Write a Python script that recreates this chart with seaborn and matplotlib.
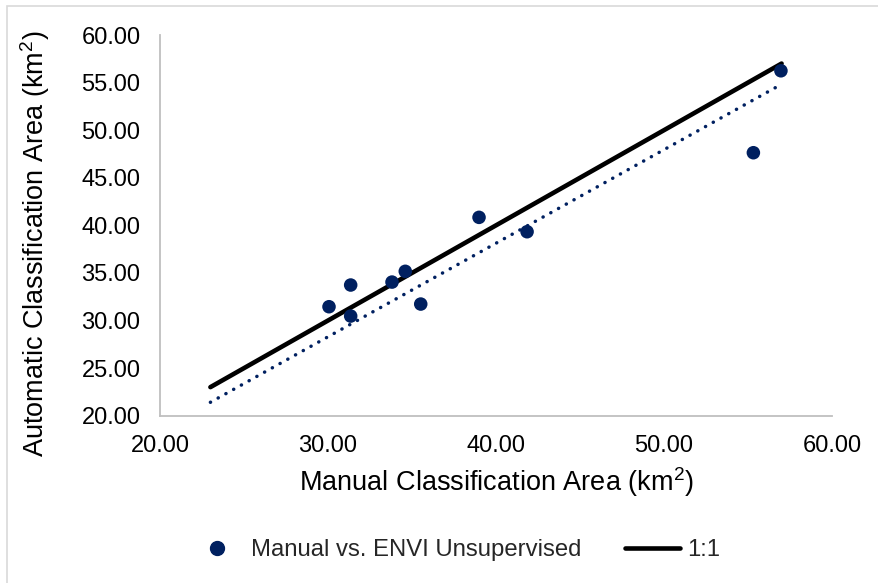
import matplotlib
matplotlib.use("Agg")
import matplotlib.pyplot as plt
from matplotlib.patches import Rectangle
from matplotlib.lines import Line2D
import numpy as np
import pandas as pd
import seaborn as sns

# Area estimates (km²) for each site: manual digitising vs. ENVI unsupervised
manual_area = [30.06, 31.35, 31.35, 33.81, 34.60, 35.52, 38.99, 41.85, 55.32, 56.96]
auto_area = [31.45, 33.73, 30.47, 34.04, 35.17, 31.73, 40.84, 39.33, 47.63, 56.24]

# Reference 1:1 line and linear trend line (same x extent)
line_x = [23.0, 57.0]
trend_slope = 0.983
trend_intercept = -1.2

x_ticks = [20, 30, 40, 50, 60]
y_ticks = [20, 25, 30, 35, 40, 45, 50, 55, 60]

sns.set_theme(style="white")
plt.rcParams["font.family"] = ["Liberation Sans", "DejaVu Sans"]
plt.rcParams["mathtext.fontset"] = "custom"
plt.rcParams["mathtext.rm"] = "Liberation Sans"
plt.rcParams["mathtext.it"] = "Liberation Sans"

navy = "#002060"
grey = "#BFBFBF"

fig = plt.figure(figsize=(8.79, 5.83), dpi=100)
ax = fig.add_axes([160 / 879, 1 - 415.7 / 583, 672 / 879, 380.7 / 583])

df_pts = pd.DataFrame({"manual": manual_area, "auto": auto_area})
df_one = pd.DataFrame({"x": line_x, "y": line_x})
df_trend = pd.DataFrame({"x": line_x,
                         "y": [trend_slope * v + trend_intercept for v in line_x]})

sns.lineplot(data=df_trend, x="x", y="y", ax=ax, color=navy, lw=2.5,
             linestyle=(0, (0.05, 2.5)), dash_capstyle="round",
             legend=False, zorder=2)
sns.lineplot(data=df_one, x="x", y="y", ax=ax, color="black", lw=3.3,
             solid_capstyle="round", legend=False, zorder=3)
sns.scatterplot(data=df_pts, x="manual", y="auto", ax=ax, color=navy,
                s=95, edgecolor="none", legend=False, zorder=4)

ax.set_xlim(20, 60)
ax.set_ylim(20, 60)
ax.set_xticks(x_ticks)
ax.set_yticks(y_ticks)
ax.set_xticklabels([f"{v:.2f}" for v in x_ticks])
ax.set_yticklabels([f"{v:.2f}" for v in y_ticks])
ax.tick_params(axis="both", length=0, labelsize=17, colors="#000000", pad=14)

for side in ("top", "right"):
    ax.spines[side].set_visible(False)
for side in ("left", "bottom"):
    ax.spines[side].set_color(grey)
    ax.spines[side].set_linewidth(1.3)

ax.set_xlabel(r"Manual Classification Area (km$^{2}$)", fontsize=19.5,
              color="black", labelpad=6)
ax.set_ylabel(r"Automatic Classification Area (km$^{2}$)", fontsize=19.5,
              color="black")
ax.yaxis.set_label_coords(-0.161, 0.451)

handles = [
    Line2D([], [], marker="o", linestyle="none", color=navy, markersize=10),
    Line2D([], [], color="black", lw=3.3),
]
fig.legend(handles, ["Manual vs. ENVI Unsupervised", "1:1"], loc="center",
           bbox_to_anchor=(0.517, 1 - 550 / 583), ncol=2, frameon=False,
           fontsize=17.2, handlelength=2.3, handletextpad=0.3, columnspacing=1.8)

# Chart area border
fig.patches.append(Rectangle((7.5 / 879, -0.1), 1.2, (583 - 6.5) / 583 + 0.1,
                             transform=fig.transFigure, fill=False,
                             edgecolor="#D9D9D9", lw=1.2))

fig.savefig("out.png", dpi=100)
